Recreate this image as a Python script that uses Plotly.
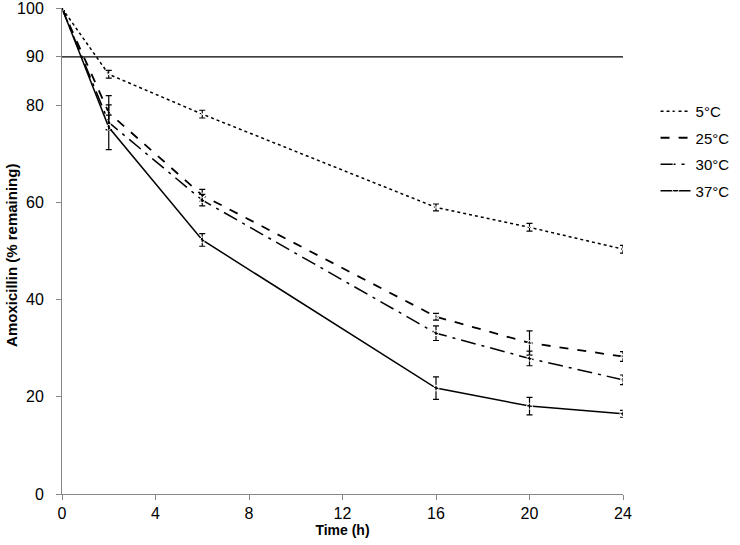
import plotly.graph_objects as go

time_h = [0, 2, 6, 16, 20, 24]

series_names = ['5°C', '25°C', '30°C', '37°C']
remaining_5 = [100, 86.4, 78.2, 59.0, 54.9, 50.4]
remaining_25 = [100, 78.5, 61.5, 36.5, 31.1, 28.3]
remaining_30 = [100, 76.5, 60.5, 33.1, 27.9, 23.5]
remaining_37 = [100, 75.5, 52.3, 21.8, 18.1, 16.5]

err_5 = [0.5, 0.8, 0.8, 0.7, 0.8, 0.8]
err_25 = [0.5, 3.5, 1.2, 0.7, 2.5, 1.0]
err_30 = [0.5, 1.5, 1.2, 1.5, 1.5, 1.0]
err_37 = [0.5, 4.6, 1.3, 2.3, 1.8, 0.7]

limit_x = [0, 24]
limit_y = [90, 90]

y_ticks = [0, 20, 40, 60, 80, 90, 100]
x_ticks = [0, 4, 8, 12, 16, 20, 24]

line_color = 'black'
axis_color = '#868686'

styles = [
    dict(dash='dot', symbol='x-thin-open', width=1.5),
    dict(dash='dash', symbol='triangle-up-open', width=1.8),
    dict(dash='longdashdot', symbol='circle-open', width=1.5),
    dict(dash='solid', symbol='diamond-open', width=1.5),
]
values = [remaining_5, remaining_25, remaining_30, remaining_37]
errors = [err_5, err_25, err_30, err_37]

fig = go.Figure()

# 90 % limit line
fig.add_trace(go.Scatter(x=limit_x, y=limit_y, mode='lines',
                         line=dict(color=line_color, width=1.2),
                         showlegend=False, hoverinfo='skip'))

for name, vals, errs, st in zip(series_names, values, errors, styles):
    fig.add_trace(go.Scatter(
        x=time_h, y=vals, name=name, legendgroup=name, mode='lines+markers',
        line=dict(color=line_color, width=st['width'], dash=st['dash']),
        marker=dict(symbol=st['symbol'], size=5, color='white',
                    line=dict(color=line_color, width=1)),
        error_y=dict(type='data', array=errs, visible=True,
                     color=line_color, thickness=1.2, width=3),
        cliponaxis=False))

layout = go.Layout(
    width=740, height=545,
    margin=dict(l=62, r=117, t=8, b=51, autoexpand=False),
    paper_bgcolor='white', plot_bgcolor='white',
    font=dict(family='Liberation Sans, Arial, sans-serif', size=16, color='black'),
    xaxis=dict(range=[0, 24], tickvals=x_ticks, showgrid=False, zeroline=False,
               showline=True, linecolor=axis_color, linewidth=1, automargin=False,
               ticks='outside', ticklen=5, tickcolor=axis_color,
               tickfont=dict(size=16),
               title=dict(text='<b>Time (h)</b>', font=dict(size=14), standoff=2)),
    yaxis=dict(range=[0, 100.05], tickvals=y_ticks, showgrid=False, zeroline=False,
               showline=True, linecolor=axis_color, linewidth=1, automargin=False,
               ticks='outside', ticklen=5, tickcolor=axis_color,
               tickfont=dict(size=16), ticklabeloverflow='allow',
               ticklabelstandoff=9),
    legend=dict(x=1.058, y=0.821, xanchor='left', yanchor='top',
                font=dict(size=15), bgcolor='rgba(0,0,0,0)',
                tracegroupgap=4, itemwidth=30),
    annotations=[dict(text='<b>Amoxicillin (% remaining)</b>', textangle=-90,
                      xref='paper', yref='paper', x=-0.089, y=0.49,
                      xanchor='center', yanchor='middle', showarrow=False,
                      font=dict(size=15))],
)
fig.update_layout(layout)
fig.write_html("out.html", config={'displayModeBar': False},
               post_script="document.body.style.margin='0';")
